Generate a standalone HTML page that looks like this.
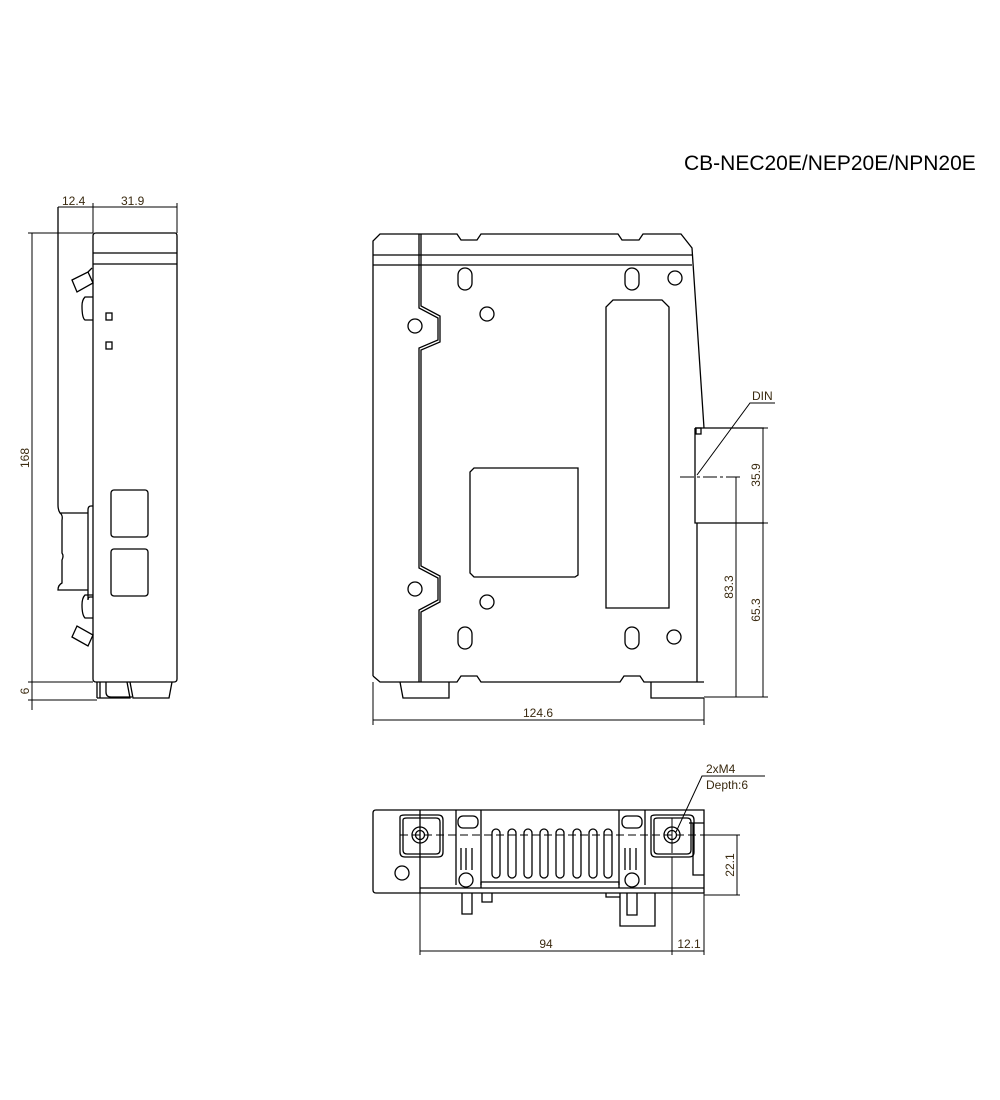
<!DOCTYPE html>
<html><head><meta charset="utf-8"><style>
html,body{margin:0;padding:0;background:#fff}
svg{display:block}
text{font-family:"Liberation Sans",sans-serif;fill:#3a2a10}
</style></head><body>
<svg width="1000" height="1100" viewBox="0 0 1000 1100" xmlns="http://www.w3.org/2000/svg">
<g fill="none" stroke="#000" stroke-width="1.3">
<path d="M96 233 H175 Q177 233 177 236 V679 Q177 682 174 682 H96 Q93 682 93 679 V236 Q93 233 96 233 Z"/>
<line x1="93" y1="253" x2="177" y2="253"/>
<line x1="93" y1="264" x2="177" y2="264"/>
<path d="M97 682 V698 M100 682 V698 M97 698 H130 L127 682 M106 682 V692 Q106 697 111 697 H132 M130 682 L133 698 H169 L172 682"/>
<rect x="106" y="313" width="6" height="7"/>
<rect x="106" y="342" width="6" height="7"/>
<rect x="111" y="490" width="37" height="47" rx="3"/>
<rect x="111" y="549" width="37" height="47" rx="3"/>
<line x1="58" y1="207" x2="58" y2="505"/>
<path d="M58 505 Q58 510 60 513 H88 M60 513 Q63 515 62 520 V553 Q64 556 62 560 V583 Q58 585 58 590 H88 M88 510 V600 Q88 597 90 597 H93 M88 510 Q88 506 91 506 H93"/>
<path d="M93 297 H85 Q82 300 82 306 Q82 318 85 320 H93"/>
<path d="M93 595 H85 Q82 598 82 605 Q82 615 85 618 H93"/>
<path d="M72 280 L88 272 L93 283 L77 292 Z M88 272 L92 268"/>
<path d="M72 637 L88 646 L93 635 L77 626 Z"/>
<line x1="32" y1="233" x2="32" y2="710" stroke-width="1"/>
<line x1="28" y1="233" x2="93" y2="233" stroke-width="1"/>
<line x1="28" y1="682" x2="93" y2="682" stroke-width="1"/>
<line x1="28" y1="700" x2="97" y2="700" stroke-width="1"/>
<line x1="58" y1="207" x2="177" y2="207" stroke-width="1"/>
<line x1="93" y1="203" x2="93" y2="233" stroke-width="1"/>
<line x1="177" y1="203" x2="177" y2="233" stroke-width="1"/>

<path d="M373 676 V241 L380 234 H457 L461 240 H477 L481 234 H618 L622 240 H639 L643 234 H681 L692 248 L704 428"/>
<line x1="373" y1="255" x2="692" y2="255"/>
<line x1="373" y1="265" x2="692" y2="265"/>
<path d="M419 234 V308 L438 318 V340 L419 348 V568 L438 578 V600 L419 610 V682"/>
<path d="M421 234 V306 L440 316 V342 L421 350 V566 L440 576 V602 L421 612 V682"/>
<path d="M373 676 L380 682 H457 L461 676 H477 L481 682 H620 L624 676 H640 L644 682 H704"/>
<path d="M400 682 L403 698 H449 V682 M651 682 V698 H704"/>
<path d="M697 682 V523 M695 428 H764 M695 428 V523 H764"/>
<rect x="696" y="428" width="5" height="6"/>
<rect x="458" y="268" width="14" height="22" rx="7"/>
<rect x="625" y="268" width="14" height="22" rx="7"/>
<rect x="458" y="627" width="14" height="22" rx="7"/>
<rect x="625" y="627" width="14" height="22" rx="7"/>
<circle cx="487" cy="314" r="7"/><circle cx="675" cy="278" r="7"/>
<circle cx="415" cy="326" r="7"/><circle cx="415" cy="589" r="7"/>
<circle cx="487" cy="602" r="7"/><circle cx="674" cy="637" r="7"/>
<path d="M613 300 H662 L669 307 V608 H606 V307 Z"/>
<path d="M474 468 H578 V575 L575 577 H474 L470 573 V472 Z"/>
<line x1="373" y1="682" x2="373" y2="725" stroke-width="1"/>
<line x1="704" y1="698" x2="704" y2="725" stroke-width="1"/>
<line x1="373" y1="720" x2="704" y2="720" stroke-width="1"/>
<line x1="704" y1="697" x2="768" y2="697" stroke-width="1"/>
<line x1="764" y1="428" x2="768" y2="428" stroke-width="1"/>
<line x1="764" y1="523" x2="768" y2="523" stroke-width="1"/>
<line x1="736" y1="477" x2="736" y2="697" stroke-width="1"/>
<line x1="763" y1="428" x2="763" y2="697" stroke-width="1"/>
<line x1="680" y1="477" x2="740" y2="477" stroke-width="1" stroke-dasharray="14,3,3,3"/>
<path d="M697 475 L750 403 H775" stroke-width="1"/>

<path d="M376 810 H704 V893 H376 Q373 893 373 890 V813 Q373 810 376 810 Z"/>
<line x1="420" y1="810" x2="420" y2="893"/>
<line x1="420" y1="888" x2="704" y2="888"/>
<path d="M400 817 Q400 815 405 815 H438 Q443 815 443 820 V852 Q443 857 438 857 H405 Q400 857 400 852 Z"/>
<path d="M403 820 Q403 818 407 818 H436 Q440 818 440 822 V850 Q440 854 436 854 H407 Q403 854 403 850 Z"/>
<path d="M651 817 Q651 815 656 815 H689 Q694 815 694 820 V852 Q694 857 689 857 H656 Q651 857 651 852 Z"/>
<path d="M654 820 Q654 818 658 818 H687 Q691 818 691 822 V850 Q691 854 687 854 H658 Q654 854 654 850 Z"/>
<circle cx="420" cy="835" r="8"/><circle cx="420" cy="835" r="4.5"/>
<circle cx="672" cy="835" r="8"/><circle cx="672" cy="835" r="4.5"/>
<circle cx="402" cy="873" r="7"/>
<line x1="400" y1="835" x2="740" y2="835" stroke-width="1" stroke-dasharray="8,4"/>
<line x1="420" y1="818" x2="420" y2="853" stroke-width="1"/>
<line x1="672" y1="818" x2="672" y2="853" stroke-width="1"/>
<path d="M456 810 V885 M481 810 V885 M619 810 V885 M645 810 V885"/>
<path d="M481 882 H619 V888 M481 888 V882"/>
<rect x="458" y="816" width="20" height="12" rx="5"/>
<rect x="622" y="816" width="20" height="12" rx="5"/>
<path d="M461 848 V870 M466 848 V870 M472 848 V870 M625 848 V870 M630 848 V870 M636 848 V870"/>
<circle cx="466" cy="880" r="7"/><circle cx="632" cy="880" r="7"/>
<rect x="492" y="829" width="8" height="49" rx="4"/>
<rect x="508" y="829" width="8" height="49" rx="4"/>
<rect x="524" y="829" width="8" height="49" rx="4"/>
<rect x="540" y="829" width="8" height="49" rx="4"/>
<rect x="556" y="829" width="8" height="49" rx="4"/>
<rect x="573" y="829" width="8" height="49" rx="4"/>
<rect x="589" y="829" width="8" height="49" rx="4"/>
<rect x="604" y="829" width="8" height="49" rx="4"/>
<path d="M689 823 H704 M693 823 V875 H704"/>
<path d="M462 893 V914 H472 V893 M482 893 V902 H492 V893"/>
<path d="M627 893 V915 H637 V893 M620 893 V926 H655 V893 M606 893 V897 H620"/>
<line x1="420" y1="893" x2="420" y2="955" stroke-width="1"/>
<line x1="672" y1="857" x2="672" y2="955" stroke-width="1"/>
<line x1="704" y1="893" x2="704" y2="955" stroke-width="1"/>
<line x1="420" y1="951" x2="704" y2="951" stroke-width="1"/>
<line x1="704" y1="835" x2="740" y2="835" stroke-width="1"/>
<line x1="704" y1="895" x2="740" y2="895" stroke-width="1"/>
<line x1="737" y1="835" x2="737" y2="895" stroke-width="1"/>
<path d="M676 832 L702 776 H765" stroke-width="1"/>
</g>
<text x="684" y="170" font-size="21" style="fill:#000">CB-NEC20E/NEP20E/NPN20E</text>
<text x="62" y="205" font-size="12">12.4</text>
<text x="121" y="205" font-size="12">31.9</text>
<text x="29" y="458" font-size="12" transform="rotate(-90 29 458)" text-anchor="middle">168</text>
<text x="29" y="691" font-size="12" transform="rotate(-90 29 691)" text-anchor="middle">6</text>
<text x="538" y="717" font-size="12" text-anchor="middle">124.6</text>
<text x="752" y="400" font-size="12">DIN</text>
<text x="760" y="475" font-size="12" transform="rotate(-90 760 475)" text-anchor="middle">35.9</text>
<text x="733" y="587" font-size="12" transform="rotate(-90 733 587)" text-anchor="middle">83.3</text>
<text x="760" y="610" font-size="12" transform="rotate(-90 760 610)" text-anchor="middle">65.3</text>
<text x="706" y="773" font-size="12">2xM4</text>
<text x="706" y="789" font-size="12">Depth:6</text>
<text x="546" y="948" font-size="12" text-anchor="middle">94</text>
<text x="689" y="948" font-size="12" text-anchor="middle">12.1</text>
<text x="734" y="865" font-size="12" transform="rotate(-90 734 865)" text-anchor="middle">22.1</text>
</svg>
</body></html>
